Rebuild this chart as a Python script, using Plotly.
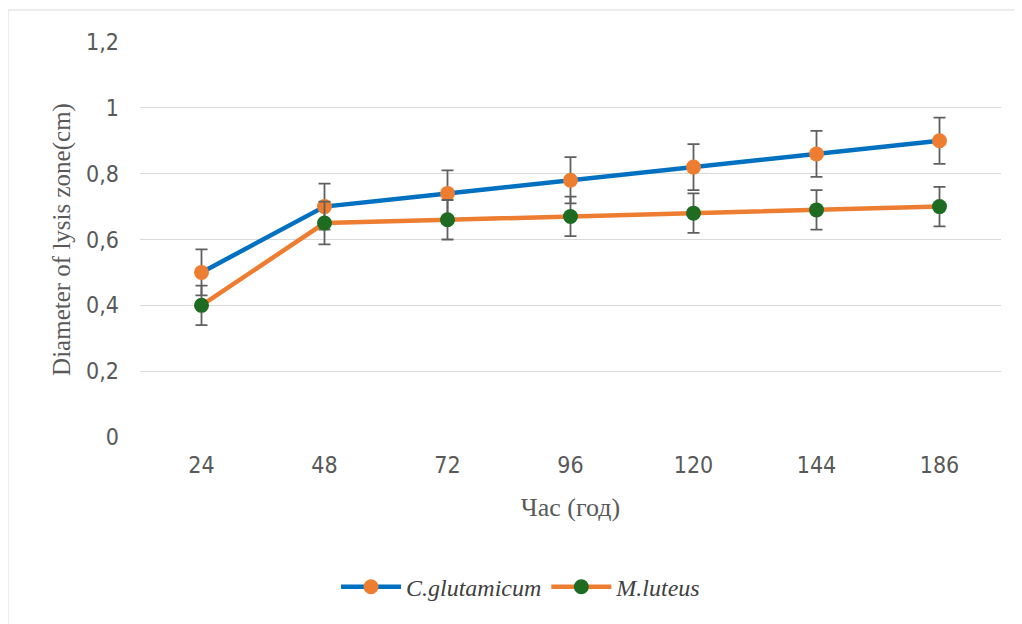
import plotly.graph_objects as go

hours = ["24", "48", "72", "96", "120", "144", "186"]
c_glut = [0.50, 0.70, 0.74, 0.78, 0.82, 0.86, 0.90]
c_glut_err = [0.07, 0.07, 0.07, 0.07, 0.07, 0.07, 0.07]
m_lut = [0.40, 0.65, 0.66, 0.67, 0.68, 0.69, 0.70]
m_lut_err = [0.06, 0.065, 0.06, 0.06, 0.06, 0.06, 0.06]
y_ticks = [0, 0.2, 0.4, 0.6, 0.8, 1.0, 1.2]
y_labels = ["0", "0,2", "0,4", "0,6", "0,8", "1", "1,2"]

fig = go.Figure()
fig.add_trace(go.Scatter(
    x=hours, y=c_glut, mode="lines+markers", name="C.glutamicum",
    line=dict(color="#0070C0", width=4.5),
    marker=dict(color="#ED7D31", size=15),
    error_y=dict(type="data", array=c_glut_err, color="#5f5f5f", thickness=1.8, width=6),
))
fig.add_trace(go.Scatter(
    x=hours, y=m_lut, mode="lines+markers", name="M.luteus",
    line=dict(color="#ED7D31", width=4.5),
    marker=dict(color="#1E6B22", size=15),
    error_y=dict(type="data", array=m_lut_err, color="#5f5f5f", thickness=1.8, width=6),
))

# page has an 8px body margin: figure origin sits at (8, 8)
W, H = 1014, 616
L, T = 132, 34
pw, ph = 861, 395
R, B = W - L - pw, H - T - ph
fig.add_shape(type="rect", xref="paper", yref="paper",
              x0=(0 - L) / pw, x1=(W + 20 - L) / pw,
              y0=(T + ph - (H + 20)) / ph, y1=(T + ph - 2) / ph,
              line=dict(color="#D9D9D9", width=1), fillcolor="rgba(0,0,0,0)", layer="below")

tick_font = dict(family="Liberation Sans Narrow, DejaVu Sans Condensed, Liberation Sans", size=23, color="#595959")

fig.update_layout(
    width=W, height=H,
    margin=dict(l=L, r=R, t=T, b=B),
    paper_bgcolor="white", plot_bgcolor="white",
    showlegend=True,
    legend=dict(orientation="h", x=0.4425, xanchor="center", y=-0.38, yanchor="middle",
                font=dict(family="Liberation Serif", size=24, color="#404040", style="italic"),
                itemwidth=60, tracegroupgap=30),
    xaxis=dict(
        type="category", range=[-0.5, 6.5], showgrid=False, zeroline=False, showline=False,
        tickfont=tick_font, ticks="", ticklabelstandoff=12,
        title=dict(text="Час (год)", font=dict(family="Liberation Serif", size=26, color="#595959"), standoff=20),
    ),
    yaxis=dict(
        range=[0, 1.2], tickvals=y_ticks, ticktext=y_labels,
        showgrid=True, gridcolor="#D9D9D9", gridwidth=1.3, zeroline=False, showline=False,
        tickfont=tick_font, ticks="", ticklabelstandoff=20,
        title=dict(text="Diameter of lysis zone(cm)", font=dict(family="Liberation Serif", size=25, color="#595959"), standoff=8),
    ),
)
fig.write_html("out.html")
